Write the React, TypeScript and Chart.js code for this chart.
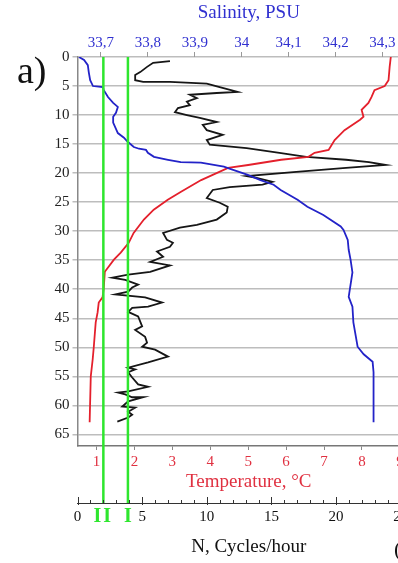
import React, { useEffect, useRef } from 'react';
import { Chart, registerables } from 'chart.js';

Chart.register(...registerables);

const SERIF = "'Liberation Serif', 'Times New Roman', serif";
const BLUE = '#2323c8';
const BLUE_TEXT = '#3030d0';
const RED = '#e4202c';
const RED_TEXT = '#e03040';
const BLACK = '#161616';
const GREEN = '#2ee62e';

// Temperature profile (depth m, °C)
const depthT = [0, 1.7, 4.0, 5.0, 5.7, 6.9, 7.9, 9.1, 10.3, 10.8, 12.6, 14.3, 16.0, 16.5, 17.2, 17.7, 18.6, 19.1, 21.2, 23.2, 24.6, 26.3, 28.0, 30.3, 32.0, 33.7, 34.9, 36.3, 37.0, 40.0, 41.4, 42.3, 44.0, 45.7, 49.9, 52.1, 55.0, 62.9];
const temperature = [8.76, 8.73, 8.70, 8.60, 8.33, 8.25, 8.17, 7.99, 8.04, 7.95, 7.54, 7.28, 7.12, 6.75, 6.59, 5.87, 5.00, 4.47, 3.76, 3.23, 2.88, 2.51, 2.25, 1.98, 1.85, 1.64, 1.46, 1.30, 1.22, 1.19, 1.16, 1.06, 1.03, 0.98, 0.93, 0.90, 0.85, 0.82];

// Salinity profile (depth m, PSU)
const depthS = [0, 0.5, 1.4, 2.6, 4.0, 5.0, 5.2, 5.7, 6.9, 7.9, 8.6, 9.6, 10.3, 11.3, 13.1, 13.9, 14.6, 15.5, 15.8, 16.0, 16.5, 17.2, 17.7, 18.1, 18.2, 18.9, 19.3, 20.3, 21.2, 22.0, 22.9, 24.6, 25.8, 27.2, 29.2, 29.8, 31.5, 33.2, 34.9, 37.1, 41.3, 43.0, 45.7, 49.9, 51.2, 52.5, 54.3, 58.5, 62.9];
const salinity = [33.653, 33.664, 33.672, 33.674, 33.677, 33.683, 33.704, 33.706, 33.715, 33.726, 33.736, 33.732, 33.726, 33.726, 33.736, 33.749, 33.757, 33.770, 33.781, 33.796, 33.800, 33.813, 33.843, 33.870, 33.913, 33.962, 33.977, 34.013, 34.040, 34.068, 34.083, 34.119, 34.140, 34.174, 34.211, 34.217, 34.226, 34.228, 34.232, 34.236, 34.228, 34.236, 34.238, 34.247, 34.260, 34.279, 34.281, 34.281, 34.281];

// Buoyancy frequency profile (depth m, cycles/hour)
const depthN = [0.7, 1.0, 1.7, 2.6, 3.1, 4.0, 4.3, 4.3, 4.6, 5.2, 6.0, 6.2, 6.5, 7.1, 7.7, 8.3, 8.8, 9.5, 10.0, 10.5, 11.2, 11.7, 12.6, 13.4, 14.3, 15.1, 15.7, 16.5, 17.2, 17.7, 18.1, 18.6, 19.1, 19.8, 20.5, 20.8, 21.5, 22.0, 22.4, 22.9, 24.3, 25.1, 25.8, 26.8, 28.0, 28.9, 29.4, 30.3, 31.5, 32.0, 32.7, 33.5, 34.4, 35.3, 35.9, 37.0, 37.5, 38.0, 38.4, 39.2, 39.7, 40.4, 40.9, 41.4, 42.3, 43.0, 43.2, 43.9, 44.7, 46.4, 47.0, 48.2, 49.2, 49.9, 50.4, 51.6, 52.6, 53.5, 53.8, 54.3, 55.2, 56.4, 56.8, 57.6, 57.8, 58.1, 58.6, 58.6, 59.3, 60.2, 60.4, 61.1, 61.6, 62.1, 62.8];
const nValues = [7.15, 5.85, 5.38, 4.85, 4.46, 4.46, 5.08, 7.15, 10.0, 11.0, 12.38, 10.77, 8.69, 9.23, 8.46, 8.69, 7.77, 7.54, 8.46, 9.46, 10.77, 9.69, 10.0, 11.23, 10.0, 10.23, 13.08, 15.62, 17.69, 20.77, 22.54, 23.85, 20.77, 16.92, 13.08, 13.85, 15.08, 14.31, 11.77, 10.46, 10.0, 11.0, 11.62, 11.54, 10.77, 9.23, 7.92, 6.62, 6.92, 7.38, 7.15, 6.15, 6.62, 5.62, 7.15, 5.62, 3.92, 2.69, 3.69, 4.69, 4.23, 3.92, 2.92, 5.23, 6.54, 5.46, 4.23, 3.92, 4.69, 5.0, 4.46, 5.23, 5.38, 5.0, 6.0, 7.0, 5.46, 3.92, 4.46, 3.92, 4.23, 4.69, 5.46, 3.92, 3.15, 3.69, 4.23, 5.08, 3.92, 3.46, 4.46, 3.92, 4.23, 3.92, 3.08];

// Reference N levels (green lines) and their labels
const markerValues = [3.9, 2.0];
const markerLabels = ['I', 'II'];

// Axis ranges
const depthRange = [0, 67];
const salinityRange = [33.65, 34.38];
const temperatureRange = [0.5, 9.53];
const nRange = [0, 26.49];

const toPoints = (xs: number[], ys: number[]) =>
  xs.slice(0, Math.min(xs.length, ys.length)).map((x, i) => ({ x, y: ys[i] }));

const fmtSalinity = (value: number) => {
  const v = Math.round(value * 10) / 10;
  return Number.isInteger(v) ? String(v) : v.toFixed(1).replace('.', ',');
};

const overlay = {
  id: 'overlay',
  afterDatasetsDraw(chart: any) {
    const { ctx, chartArea, scales } = chart;
    const xN = scales.xN;
    ctx.save();
    ctx.strokeStyle = GREEN;
    ctx.lineWidth = 2.5;
    markerValues.forEach((v) => {
      const x = xN.getPixelForValue(v);
      ctx.beginPath();
      ctx.moveTo(x, chartArea.top);
      ctx.lineTo(x, xN.top);
      ctx.stroke();
    });
    ctx.restore();
  },
  afterDraw(chart: any) {
    const { ctx, scales } = chart;
    const xN = scales.xN;
    ctx.save();
    // upward tick marks on the N axis
    ctx.strokeStyle = '#333';
    ctx.lineWidth = 1;
    for (let v = 0; v <= nRange[1]; v += 1) {
      const x = Math.round(xN.getPixelForValue(v)) + 0.5;
      const len = v % 5 === 0 ? 6 : 3;
      ctx.beginPath();
      ctx.moveTo(x, xN.top - len);
      ctx.lineTo(x, xN.top + (v % 5 === 0 ? 2 : 0));
      ctx.stroke();
    }
    // marker labels
    ctx.fillStyle = GREEN;
    ctx.font = `bold 20px ${SERIF}`;
    ctx.textAlign = 'center';
    ctx.textBaseline = 'middle';
    markerValues.forEach((v, i) => {
      const x = xN.getPixelForValue(v);
      (ctx as any).letterSpacing = markerLabels[i].length > 1 ? '2px' : '0px';
      ctx.fillText(markerLabels[i], x, 517);
    });
    (ctx as any).letterSpacing = '0px';
    // panel label
    ctx.fillStyle = '#111';
    ctx.font = `38px ${SERIF}`;
    ctx.textAlign = 'left';
    ctx.textBaseline = 'alphabetic';
    ctx.fillText('a)', 17, 83);
    ctx.font = `22px ${SERIF}`;
    ctx.fillText('(', 394, 556);
    ctx.restore();
  },
};

export default function App() {
  const ref = useRef<HTMLCanvasElement>(null);

  useEffect(() => {
    const canvas = ref.current;
    if (!canvas) return;
    const chart = new Chart(canvas, {
      type: 'scatter',
      data: {
        datasets: [
          {
            label: 'Salinity',
            data: toPoints(salinity, depthS),
            xAxisID: 'xS',
            yAxisID: 'y',
            showLine: true,
            borderColor: BLUE,
            borderWidth: 1.8,
            pointRadius: 0,
          },
          {
            label: 'Temperature',
            data: toPoints(temperature, depthT),
            xAxisID: 'xT',
            yAxisID: 'y',
            showLine: true,
            borderColor: RED,
            borderWidth: 1.8,
            pointRadius: 0,
          },
          {
            label: 'N',
            data: toPoints(nValues, depthN),
            xAxisID: 'xN',
            yAxisID: 'y',
            showLine: true,
            borderColor: BLACK,
            borderWidth: 1.8,
            pointRadius: 0,
          },
        ],
      },
      options: {
        responsive: false,
        animation: false,
        events: [],
        layout: { padding: { left: 0, right: 10, top: 0, bottom: 0 } },
        plugins: { legend: { display: false }, tooltip: { enabled: false } },
        scales: {
          y: {
            type: 'linear',
            position: 'left',
            reverse: true,
            min: depthRange[0],
            max: depthRange[1],
            ticks: {
              stepSize: 5,
              includeBounds: false,
              color: '#222',
              font: { family: SERIF, size: 15 },
              padding: 3,
            },
            grid: { color: '#bdbdbd', lineWidth: 1.5, tickLength: 5, drawTicks: true },
            border: { display: true, color: '#888', width: 1.5 },
            afterFit: (s: any) => {
              s.width = 77.5;
            },
          },
          xS: {
            type: 'linear',
            position: 'top',
            min: salinityRange[0],
            max: salinityRange[1],
            ticks: {
              stepSize: 0.1,
              includeBounds: false,
              color: BLUE_TEXT,
              font: { family: SERIF, size: 15 },
              padding: 0,
              callback: (value: any) => fmtSalinity(Number(value)),
            },
            grid: { drawOnChartArea: false, drawTicks: true, tickLength: 5, color: '#999' },
            border: { display: false },
            title: {
              display: true,
              text: 'Salinity, PSU',
              color: BLUE_TEXT,
              font: { family: SERIF, size: 19 },
              padding: { top: 2, bottom: 0 },
            },
            afterFit: (s: any) => {
              s.height = 57;
            },
          },
          xT: {
            type: 'linear',
            position: 'bottom',
            weight: 0,
            min: temperatureRange[0],
            max: temperatureRange[1],
            ticks: {
              stepSize: 1,
              includeBounds: false,
              color: RED_TEXT,
              font: { family: SERIF, size: 15 },
              padding: 3,
            },
            grid: { drawOnChartArea: false, drawTicks: true, tickLength: 4, color: '#888' },
            border: { display: true, color: '#777', width: 1.5 },
            title: {
              display: true,
              text: 'Temperature, °C',
              color: RED_TEXT,
              font: { family: SERIF, size: 19 },
              padding: { top: 0, bottom: 10 },
            },
            afterFit: (s: any) => {
              s.height = 57;
            },
          },
          xN: {
            type: 'linear',
            position: 'bottom',
            weight: 1,
            min: nRange[0],
            max: nRange[1],
            ticks: {
              stepSize: 5,
              includeBounds: false,
              color: '#111',
              font: { family: SERIF, size: 15 },
              padding: 5,
            },
            grid: { drawOnChartArea: false, drawTicks: false },
            border: { display: true, color: '#333', width: 1 },
            title: {
              display: true,
              text: 'N, Cycles/hour',
              color: '#111',
              font: { family: SERIF, size: 19 },
              padding: { top: 0, bottom: 5 },
            },
            afterFit: (s: any) => {
              s.height = 60;
            },
          },
        },
      } as any,
      plugins: [overlay],
    });
    return () => chart.destroy();
  }, []);

  return (
    <div
      style={{
        position: 'fixed',
        left: 0,
        top: 0,
        width: 398,
        height: 563,
        overflow: 'hidden',
        background: '#fff',
      }}
    >
      <canvas ref={ref} width={430} height={563} style={{ display: 'block', width: 430, height: 563 }} />
    </div>
  );
}
